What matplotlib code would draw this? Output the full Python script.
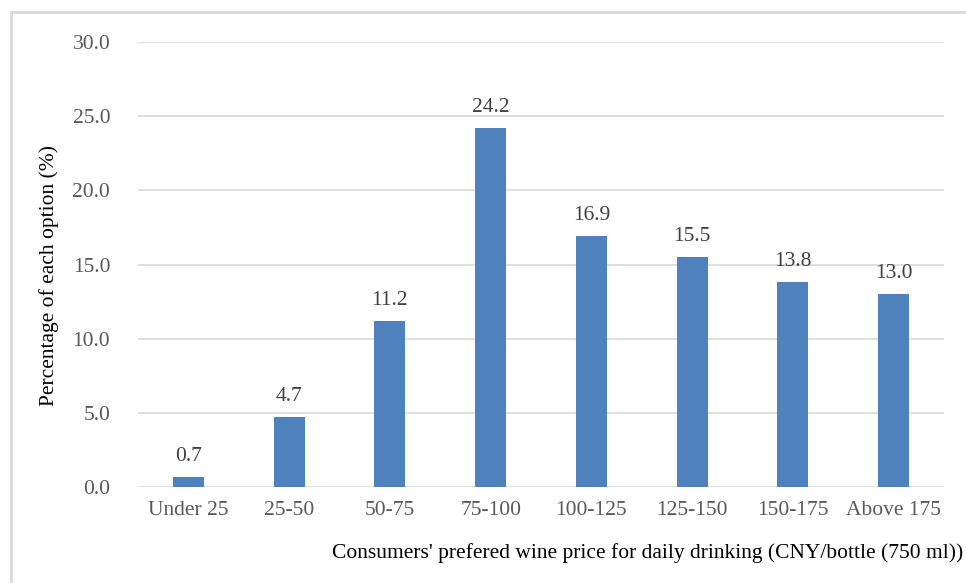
import matplotlib
matplotlib.use("Agg")
import matplotlib.pyplot as plt
from matplotlib.patches import Rectangle

categories = ["Under 25", "25-50", "50-75", "75-100", "100-125", "125-150", "150-175", "Above 175"]
values = [0.7, 4.7, 11.2, 24.2, 16.9, 15.5, 13.8, 13.0]
y_ticks = [0, 5, 10, 15, 20, 25, 30]

plt.rcParams["font.family"] = ["Liberation Serif", "DejaVu Serif"]

fig = plt.figure(figsize=(9.66, 5.83), dpi=100)
fig.patch.set_facecolor("white")

# outer frame
fig.add_artist(Rectangle((11 / 966, -0.05), 1.2, 1 - 12 / 583 + 0.05,
                         transform=fig.transFigure, fill=False,
                         edgecolor="#d9d9d9", linewidth=2.0))

ax = fig.add_axes([138 / 966, 1 - 487 / 583, (944 - 138) / 966, (487 - 42) / 583])
x = range(len(categories))
bars = ax.bar(x, values, width=0.31, color="#4f81bd", zorder=3)

ax.set_xlim(-0.5, len(categories) - 0.5)
ax.set_ylim(0, 30)
ax.set_yticks(y_ticks)
ax.set_yticklabels([f"{v:.1f}" for v in y_ticks])
ax.set_xticks(list(x))
ax.set_xticklabels(categories)
ax.grid(axis="y", color="#d9d9d9", linewidth=1.2, zorder=0)
ax.set_axisbelow(True)
for s in ax.spines.values():
    s.set_visible(False)
ax.tick_params(axis="both", length=0, labelsize=15.5, colors="#595959")
ax.tick_params(axis="x", pad=10)
ax.tick_params(axis="y", pad=20)

for xi, v in zip(x, values):
    ax.annotate(f"{v:.1f}", (xi, v), xytext=(0, 8), textcoords="offset points",
                ha="center", va="bottom", fontsize=15.5, color="#404040")

fig.text(49 / 966, 1 - 276 / 583, "Percentage of each option (%)", rotation=90,
         ha="center", va="center", fontsize=15.5, color="#000000")
fig.text(963 / 966, 1 - 553 / 583, "Consumers' prefered wine price for daily drinking (CNY/bottle (750 ml))",
         ha="right", va="center", fontsize=15.5, color="#000000")

fig.savefig("out.png", dpi=100, facecolor="white")
